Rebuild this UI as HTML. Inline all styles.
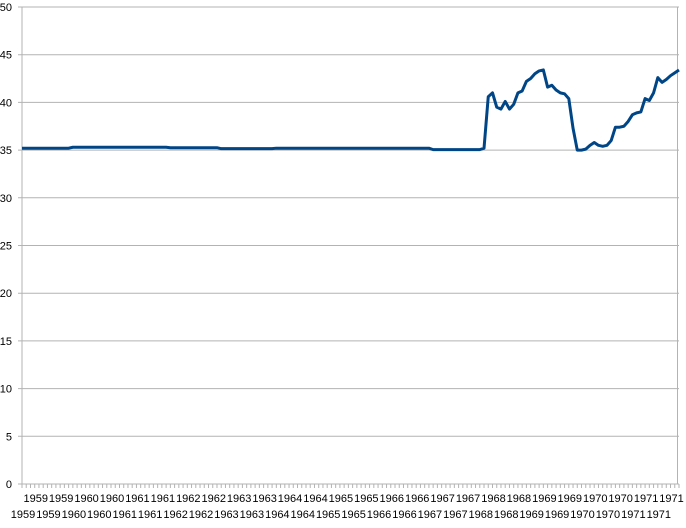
<!DOCTYPE html>
<html><head><meta charset="utf-8"><style>
body{margin:0;background:#fff;}
svg{display:block;font-family:"Liberation Sans",sans-serif;}
</style></head><body>
<svg id="chart" width="686" height="528"></svg>
<script>
const yTicks=[0,5,10,15,20,25,30,35,40,45,50];
const startYear=1959;
const values=[
35.2,35.2,35.2,35.2,35.2,35.2,35.2,35.2,35.2,35.2,35.2,35.2,
35.3,35.3,35.3,35.3,35.3,35.3,35.3,35.3,35.3,35.3,35.3,35.3,35.3,35.3,35.3,35.3,35.3,35.3,35.3,35.3,35.3,35.3,35.3,
35.25,35.25,35.25,35.25,35.25,35.25,35.25,35.25,35.25,35.25,35.25,35.25,
35.15,35.15,35.15,35.15,35.15,35.15,35.15,35.15,35.15,35.15,35.15,35.15,35.15,
35.2,35.2,35.2,35.2,35.2,35.2,35.2,35.2,35.2,35.2,35.2,35.2,35.2,35.2,35.2,35.2,35.2,35.2,35.2,35.2,35.2,35.2,35.2,35.2,35.2,35.2,35.2,35.2,35.2,35.2,35.2,35.2,35.2,35.2,35.2,35.2,35.2,
35.05,35.05,35.05,35.05,35.05,35.05,35.05,35.05,35.05,35.05,35.05,35.05,35.2,
40.6,41.0,39.5,39.3,40.1,39.3,39.8,41.0,41.2,42.2,42.5,43.0,43.3,43.4,41.6,41.8,41.3,41.0,40.9,40.4,
37.3,35.0,35.0,35.1,35.5,35.8,35.5,35.4,35.5,36.0,37.4,37.4,37.5,38.0,38.7,38.9,39.0,40.4,40.2,41.0,
42.6,42.1,42.4,42.8,43.1,43.4];
const L=22,R=679,T=7,B=484,yMax=50;
const svg=document.getElementById('chart');
const NS='http://www.w3.org/2000/svg';
const n=values.length;
function xs(i){return L+i*(R-L)/(n-1);}
function ys(v){return B-(v/yMax)*(B-T);}
function mk(t,a){const e=document.createElementNS(NS,t);for(const k in a)e.setAttribute(k,a[k]);svg.appendChild(e);return e;}
yTicks.forEach(v=>{
  const g=mk('line',{x1:L-4,x2:R,y1:ys(v),y2:ys(v),stroke:'#b3b3b3','stroke-width':1});
  
  
  const t=mk('text',{x:12,y:ys(v)+4,'text-anchor':'end','font-size':11,fill:'#000'});
  t.textContent=v;
  
  
});
const ax=mk('line',{x1:L,x2:L,y1:T,y2:B,stroke:'#b3b3b3'});


const rx=mk('line',{x1:R-1.5,x2:R-1.5,y1:T,y2:B,stroke:'#b3b3b3'});


for(let i=0;i<n;i++){
  const tk=mk('line',{x1:xs(i),x2:xs(i),y1:B,y2:B+4,stroke:'#b3b3b3'});
  
  
}
for(let k=0;3*k<n-1;k++){
  const i=3*k;
  const yr=startYear+Math.floor(i/12);
  const t=mk('text',{x:xs(i)+1,y:(k%2?502:518),'text-anchor':'middle','font-size':11,fill:'#000'});
  t.textContent=yr;
  
  
}
let d='';
values.forEach((v,i)=>{d+=(i?'L':'M')+xs(i).toFixed(2)+' '+ys(v).toFixed(2);});
const p=mk('path',{d:d,fill:'none',stroke:'#004586','stroke-width':3,'stroke-linejoin':'round'});


</script>
</body></html>
